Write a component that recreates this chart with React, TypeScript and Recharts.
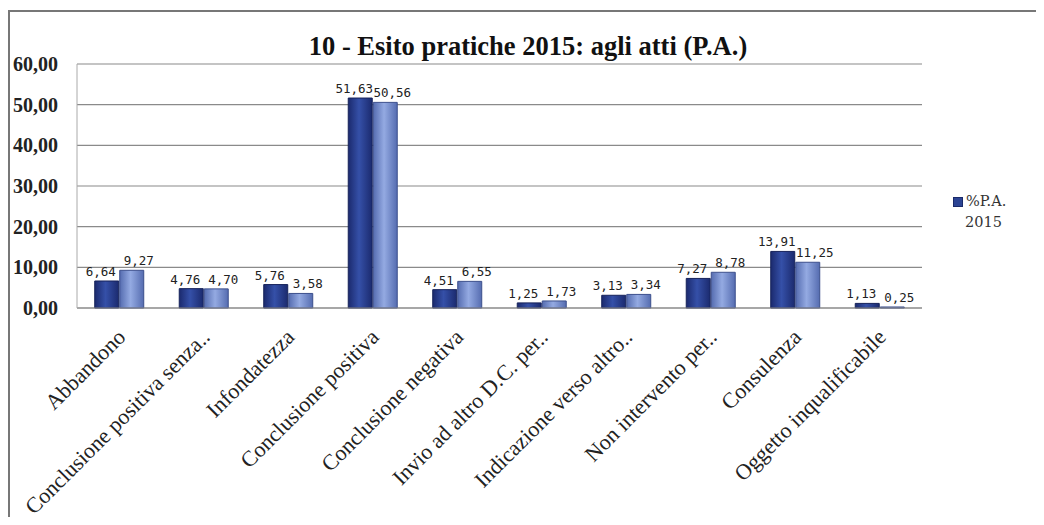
import React from "react";
import { BarChart, Bar, XAxis, YAxis, CartesianGrid, LabelList } from "recharts";

const categories = [
  "Abbandono",
  "Conclusione positiva senza..",
  "Infondatezza",
  "Conclusione positiva",
  "Conclusione negativa",
  "Invio ad altro D.C. per..",
  "Indicazione verso altro..",
  "Non intervento per..",
  "Consulenza",
  "Oggetto inqualificabile",
];
const seriesPA2015 = [6.64, 4.76, 5.76, 51.63, 4.51, 1.25, 3.13, 7.27, 13.91, 1.13];
const seriesOther = [9.27, 4.7, 3.58, 50.56, 6.55, 1.73, 3.34, 8.78, 11.25, 0.25];
const yTicks = [0, 10, 20, 30, 40, 50, 60];
const title = "10 - Esito pratiche 2015: agli atti (P.A.)";
const legendLabel = ["%P.A.", "2015"];

const data = categories.map((c, i) => ({ name: c, a: seriesPA2015[i], b: seriesOther[i] }));

const fmt = (v: number) => v.toFixed(2).replace(".", ",");

const CatTick = (props: any) => {
  const { x, y, payload } = props;
  return (
    <g transform={`translate(${x + 2},${y + 17}) rotate(-45)`}>
      <text
        textAnchor="end"
        dy="0.35em"
        fill="#222"
        style={{ fontFamily: "Liberation Serif, serif", fontSize: 22 }}
      >
        {payload.value}
      </text>
    </g>
  );
};

const makeLabel = (shift: number) => (props: any) => {
  const { x, y, width, value } = props;
  return (
    <text
      x={x + width / 2 + shift}
      y={y - 5}
      textAnchor="middle"
      fill="#222"
      style={{ fontFamily: "DejaVu Sans Mono, monospace", fontSize: 12.5 }}
    >
      {fmt(value)}
    </text>
  );
};
const LabelA = makeLabel(-6);
const LabelB = makeLabel(7);

export default function App() {
  return (
    <div style={{ position: "relative", margin: -8, width: 1044, height: 525, background: "#fff", overflow: "hidden" }}>
      <div style={{ position: "absolute", left: 8, top: 10, width: 1036, height: 515, borderTop: "2px solid #777", borderLeft: "2px solid #777" }} />
      <div
        style={{
          position: "absolute",
          left: 0,
          width: 1056,
          top: 31,
          textAlign: "center",
          fontFamily: "Liberation Serif, serif",
          fontWeight: "bold",
          fontSize: 26.5,
          color: "#111",
        }}
      >
        {title}
      </div>
      <div style={{ position: "absolute", left: 953, top: 191, fontFamily: "DejaVu Serif, serif", fontSize: 14.5, color: "#333", lineHeight: "21px" }}>
        <div>
          <span style={{ display: "inline-block", width: 8, height: 8, background: "#2c4494", border: "1px solid #1a2a6a", marginRight: 3, verticalAlign: "middle" }} />
          {legendLabel[0]}
        </div>
        <div style={{ paddingLeft: 12 }}>{legendLabel[1]}</div>
      </div>
      <div style={{ position: "absolute", left: 0, top: 0 }}>
        <BarChart
          width={1044}
          height={525}
          data={data}
          margin={{ top: 64, left: 12, right: 122, bottom: 0 }}
          barCategoryGap="21%"
          barGap={1}
        >
          <defs>
            <linearGradient id="gDark" x1="0" y1="0" x2="1" y2="0">
              <stop offset="0%" stopColor="#1b2a6e" />
              <stop offset="45%" stopColor="#3550a8" />
              <stop offset="100%" stopColor="#1b2a6e" />
            </linearGradient>
            <linearGradient id="gLight" x1="0" y1="0" x2="1" y2="0">
              <stop offset="0%" stopColor="#556cb0" />
              <stop offset="45%" stopColor="#94aae2" />
              <stop offset="100%" stopColor="#556cb0" />
            </linearGradient>
          </defs>
          <CartesianGrid vertical={false} stroke="#8a8a8a" strokeWidth={1.2} />
          <XAxis
            dataKey="name"
            tick={<CatTick />}
            tickLine={false}
            axisLine={{ stroke: "#8a8a8a", strokeWidth: 1.2 }}
            interval={0}
            height={217}
          />
          <YAxis
            domain={[0, 60]}
            ticks={yTicks}
            width={65}
            tickFormatter={fmt}
            tickLine={false}
            tickSize={0}
            tickMargin={19}
            axisLine={{ stroke: "#aaa" }}
            tick={{ fill: "#222", fontFamily: "Liberation Serif, serif", fontWeight: "bold", fontSize: 20 }}
          />
          <Bar dataKey="a" fill="url(#gDark)" stroke="#16225a" strokeWidth={1} isAnimationActive={false}>
            <LabelList dataKey="a" content={<LabelA />} />
          </Bar>
          <Bar dataKey="b" fill="url(#gLight)" stroke="#3c4f8c" strokeWidth={1} isAnimationActive={false}>
            <LabelList dataKey="b" content={<LabelB />} />
          </Bar>
        </BarChart>
      </div>
    </div>
  );
}
